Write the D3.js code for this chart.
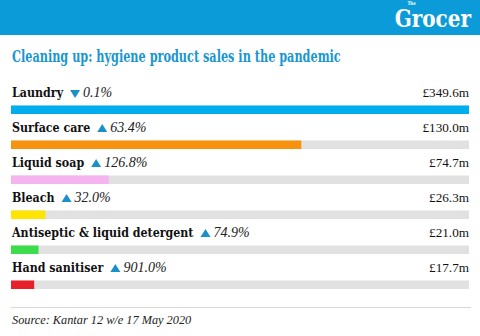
<!DOCTYPE html>
<html>
<head>
<meta charset="utf-8">
<script src="https://cdn.jsdelivr.net/npm/d3@7"></script>
<style>
  html, body { margin: 0; padding: 0; background: #fff; }
  svg { display: block; }
</style>
</head>
<body>
<svg id="chart" width="480" height="336"></svg>
<script>
// ---- data ----
const categories = ["Laundry", "Surface care", "Liquid soap", "Bleach", "Antiseptic & liquid detergent", "Hand sanitiser"];
const salesLabels = ["£349.6m", "£130.0m", "£74.7m", "£26.3m", "£21.0m", "£17.7m"];
const salesValues = [349.6, 130.0, 74.7, 26.3, 21.0, 17.7];
// bar lengths as drawn in the original graphic (surface care bar is drawn longer than its label)
const barValues = [349.6, 221.6, 74.7, 26.3, 21.0, 17.7];
const changeValues = [-0.1, 63.4, 126.8, 32.0, 74.9, 901.0];
const changeLabels = ["0.1%", "63.4%", "126.8%", "32.0%", "74.9%", "901.0%"];
const barColors = ["#00aeef", "#f7920f", "#f5b4f0", "#ffe400", "#3cdc4c", "#e8202a"];
const titleText = "Cleaning up: hygiene product sales in the pandemic";
const sourceText = "Source: Kantar 12 w/e 17 May 2020";

const W = 480, H = 336;
const svg = d3.select("#chart");
const slab = "'DejaVu Serif', serif";
const serif = "'Liberation Serif', serif";

// text drawn at origin inside a group that is translated and squeezed horizontally
function squeezedText(parent, px, py, sx, anchor) {
  const g = parent.append("g").attr("transform", `translate(${px},${py}) scale(${sx},1)`);
  return g.append("text").attr("x", 0).attr("y", 0).attr("text-anchor", anchor || "start");
}

// header band
svg.append("rect").attr("x", 0).attr("y", 0).attr("width", W).attr("height", 35).attr("fill", "#0a9bd8");
const logo = squeezedText(svg, 471, 27, 0.8, "end")
  .attr("fill", "#fff").attr("font-family", slab).attr("font-weight", "bold");
logo.append("tspan").attr("x", -69).attr("y", -22).attr("font-size", 5).text("The");
logo.append("tspan").attr("x", 0).attr("y", 0).attr("font-size", 25).text("Grocer");

// title
const title = squeezedText(svg, 12, 62, 1, "start")
  .attr("font-family", slab).attr("font-weight", "bold").attr("font-size", 16)
  .attr("fill", "#1996d2").text(titleText);
const tw = title.node().getComputedTextLength();
d3.select(title.node().parentNode).attr("transform", `translate(12,62) scale(${329 / tw},1)`);

// scales
const x = d3.scaleLinear().domain([0, d3.max(salesValues)]).range([11, 469]);
const y = d3.scaleBand().domain(categories).range([80, 80 + 35 * categories.length]).paddingInner(0);

const rows = svg.append("g").selectAll("g").data(categories).join("g")
  .attr("transform", d => `translate(0,${y(d)})`);

const labelSqueeze = 0.84;
rows.each(function(d, i) {
  const g = d3.select(this);
  const lab = squeezedText(g, 12, 17, labelSqueeze, "start")
    .attr("font-family", slab).attr("font-weight", "bold").attr("font-size", 13.2)
    .attr("fill", "#111").text(d);
  const w = lab.node().getComputedTextLength() * labelSqueeze;
  const tx = 12 + w + 7;
  const up = changeValues[i] >= 0;
  const tri = up
    ? `M${tx},${17} L${tx + 10},${17} L${tx + 5},${9} Z`
    : `M${tx},${10} L${tx + 10},${10} L${tx + 5},${18} Z`;
  g.append("path").attr("d", tri).attr("fill", "#1a8fc8");
  g.append("text").attr("x", tx + 13).attr("y", 17)
    .attr("font-family", serif).attr("font-style", "italic").attr("font-size", 14)
    .attr("fill", "#222").text(changeLabels[i]);
  g.append("text").attr("x", 469).attr("y", 17).attr("text-anchor", "end")
    .attr("font-family", serif).attr("font-size", 13.2)
    .attr("fill", "#111").text(salesLabels[i]);
});

// tracks & bars
rows.append("rect").attr("x", x(0)).attr("y", 25.5).attr("height", 8.5)
  .attr("width", x(d3.max(salesValues)) - x(0)).attr("fill", "#e1e1e1");
rows.append("rect").attr("x", x(0)).attr("y", 25.5).attr("height", 8.5)
  .attr("width", (d, i) => x(barValues[i]) - x(0)).attr("fill", (d, i) => barColors[i]);

// separator & source
svg.append("line").attr("x1", 11).attr("x2", 471).attr("y1", 307.5).attr("y2", 307.5)
  .attr("stroke", "#d8d8d8").attr("stroke-width", 1);
svg.append("text").attr("x", 12).attr("y", 324)
  .attr("font-family", serif).attr("font-style", "italic").attr("font-size", 12.3)
  .attr("fill", "#222").text(sourceText);
</script>
</body>
</html>
